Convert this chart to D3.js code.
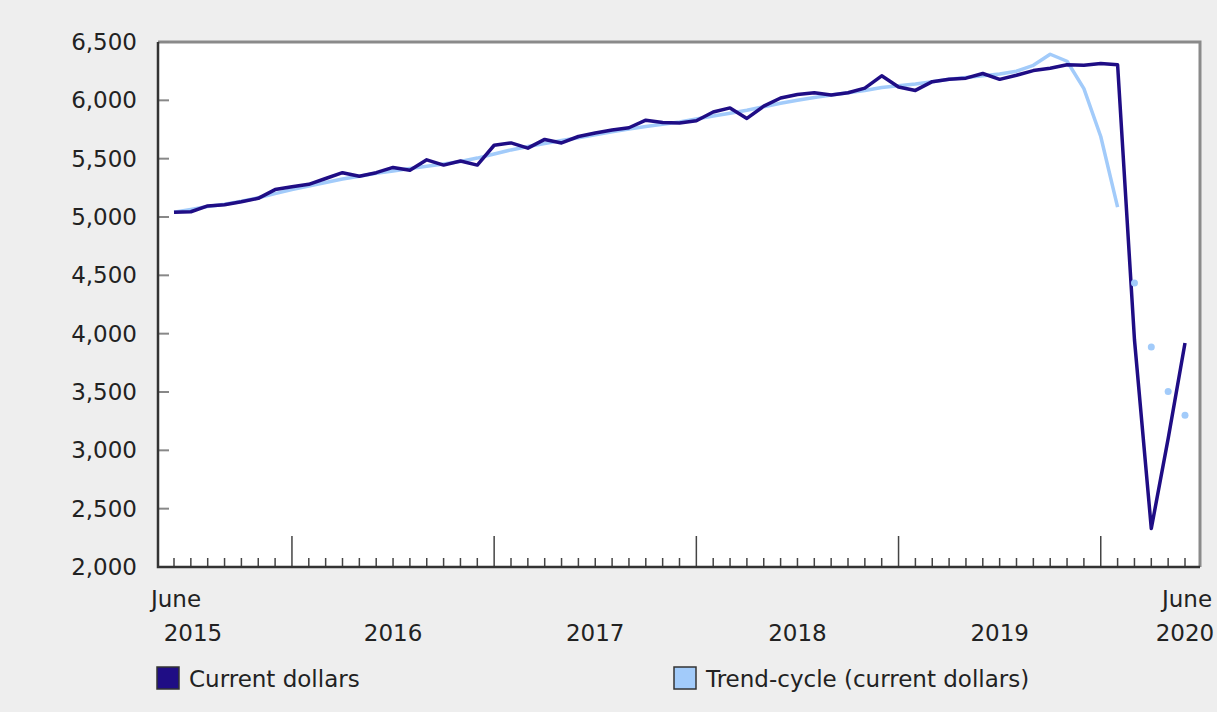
<!DOCTYPE html>
<html>
<head>
<meta charset="utf-8">
<script src="https://cdn.jsdelivr.net/npm/d3@7"></script>
<style>
  body { margin: 0; background: #eeeeee; }
  svg text { font-family: "DejaVu Sans", Verdana, sans-serif; fill: #222; }
</style>
</head>
<body>
<div id="chart"></div>
<script>
// months from June 2015 to June 2020 (index 0..60)
const startYear = 2015;
const startMonth = 5; // June, 0-based

const currentDollars = [
  5040, 5045, 5095, 5105, 5130, 5160, 5235, 5260, 5280, 5330,
  5380, 5350, 5380, 5425, 5400, 5490, 5445, 5480, 5445, 5615,
  5635, 5590, 5665, 5635, 5690, 5720, 5745, 5765, 5830, 5810,
  5805, 5825, 5900, 5935, 5845, 5950, 6020, 6050, 6065, 6045,
  6065, 6105, 6210, 6115, 6085, 6160, 6180, 6190, 6230, 6180,
  6215, 6255, 6275, 6305, 6300, 6315, 6305, 3950, 2330, 3100,
  3920
];

// trend-cycle line up to February 2020, then single points
const trendCycle = [
  5040, 5065, 5090, 5110, 5135, 5165, 5200, 5235, 5265, 5295,
  5325, 5350, 5375, 5395, 5415, 5435, 5455, 5475, 5505, 5540,
  5575, 5605, 5630, 5655, 5680, 5705, 5730, 5755, 5775, 5795,
  5815, 5840, 5865, 5890, 5915, 5945, 5975, 6000, 6025, 6045,
  6065, 6085, 6110, 6125, 6140, 6160, 6180, 6195, 6210, 6225,
  6250, 6300, 6395, 6335, 6100, 5690, 5085
];
const trendPoints = [4435, 3885, 3505, 3300]; // March to June 2020

const yTicks = [2000, 2500, 3000, 3500, 4000, 4500, 5000, 5500, 6000, 6500];
const yearLabels = ['2015', '2016', '2017', '2018', '2019', '2020'];
const seriesNames = ['Current dollars', 'Trend-cycle (current dollars)'];

const width = 1217;
const height = 712;
const plot = { left: 158, right: 1200, top: 42, bottom: 567 };
const colors = { current: '#1f0d85', trend: '#a2cbfa' };
const fontSize = '23px';

const svg = d3.select('#chart').append('svg')
  .attr('width', width)
  .attr('height', height);

svg.append('rect')
  .attr('width', width).attr('height', height)
  .attr('fill', '#eeeeee');

let x = d3.scaleLinear()
  .domain([0, currentDollars.length - 1])
  .range([174, 1185]);

let y = d3.scaleLinear()
  .domain([2000, 6500])
  .range([plot.bottom, plot.top]);

// plot area
svg.append('rect')
  .attr('x', plot.left).attr('y', plot.top)
  .attr('width', plot.right - plot.left)
  .attr('height', plot.bottom - plot.top)
  .attr('fill', '#fff');

// top and right frame
svg.append('path')
  .attr('d', `M${plot.left},${plot.top}H${plot.right}V${plot.bottom}`)
  .attr('fill', 'none')
  .attr('stroke', '#8a8a8a')
  .attr('stroke-width', 3);

// y axis ticks (inside) and labels
let yAxis = svg.append('g');
yAxis.selectAll('line')
  .data(yTicks)
  .enter().append('line')
  .attr('x1', plot.left).attr('x2', plot.left + 11)
  .attr('y1', d => y(d)).attr('y2', d => y(d))
  .attr('stroke', '#888').attr('stroke-width', 2);
yAxis.selectAll('text')
  .data(yTicks)
  .enter().append('text')
  .attr('x', 137)
  .attr('y', d => y(d) + 8)
  .attr('text-anchor', 'end')
  .style('font-size', fontSize)
  .text(d => d3.format(',')(d));

// x axis ticks, one per month, longer at January
let months = d3.range(currentDollars.length);
let xAxis = svg.append('g');
xAxis.selectAll('line')
  .data(months)
  .enter().append('line')
  .attr('x1', d => x(d)).attr('x2', d => x(d))
  .attr('y1', plot.bottom)
  .attr('y2', d => (startMonth + d) % 12 === 0 ? plot.bottom - 31 : plot.bottom - 9)
  .attr('stroke', '#444').attr('stroke-width', 1.5);

// axis lines
svg.append('path')
  .attr('d', `M${plot.left},${plot.top}V${plot.bottom}H${plot.right}`)
  .attr('fill', 'none')
  .attr('stroke', '#333')
  .attr('stroke-width', 2.5);

// year labels: centred between January ticks, first and last pinned to June
let janIdx = months.filter(d => (startMonth + d) % 12 === 0);
let yearPos = yearLabels.map((label, i) => {
  if (i === 0) return x(0) + 19;
  if (i === yearLabels.length - 1) return x(months.length - 1);
  return (x(janIdx[i - 1]) + x(janIdx[i])) / 2;
});
svg.append('g').selectAll('text')
  .data(yearLabels)
  .enter().append('text')
  .attr('x', (d, i) => yearPos[i])
  .attr('y', 641)
  .attr('text-anchor', 'middle')
  .style('font-size', fontSize)
  .text(d => d);

svg.append('g').selectAll('text')
  .data([0, months.length - 1])
  .enter().append('text')
  .attr('x', d => x(d) + 2)
  .attr('y', 607)
  .attr('text-anchor', 'middle')
  .style('font-size', fontSize)
  .text('June');

// lines
let line = d3.line()
  .x((d, i) => x(i))
  .y(d => y(d));

svg.append('path')
  .datum(trendCycle)
  .attr('d', line)
  .attr('fill', 'none')
  .attr('stroke', colors.trend)
  .attr('stroke-width', 3.5)
  .attr('stroke-linejoin', 'round');

svg.append('path')
  .datum(currentDollars)
  .attr('d', line)
  .attr('fill', 'none')
  .attr('stroke', colors.current)
  .attr('stroke-width', 3.5)
  .attr('stroke-linejoin', 'round');

svg.append('g').selectAll('circle')
  .data(trendPoints)
  .enter().append('circle')
  .attr('cx', (d, i) => x(trendCycle.length + i))
  .attr('cy', d => y(d))
  .attr('r', 3.5)
  .attr('fill', colors.trend);

// legend
let legend = svg.append('g');
[[157, colors.current, seriesNames[0]], [674, colors.trend, seriesNames[1]]].forEach(l => {
  legend.append('rect')
    .attr('x', l[0]).attr('y', 667)
    .attr('width', 22).attr('height', 22)
    .attr('fill', l[1])
    .attr('stroke', '#333').attr('stroke-width', 1.5);
  legend.append('text')
    .attr('x', l[0] + 32).attr('y', 687)
    .style('font-size', fontSize)
    .text(l[2]);
});
</script>
</body>
</html>
